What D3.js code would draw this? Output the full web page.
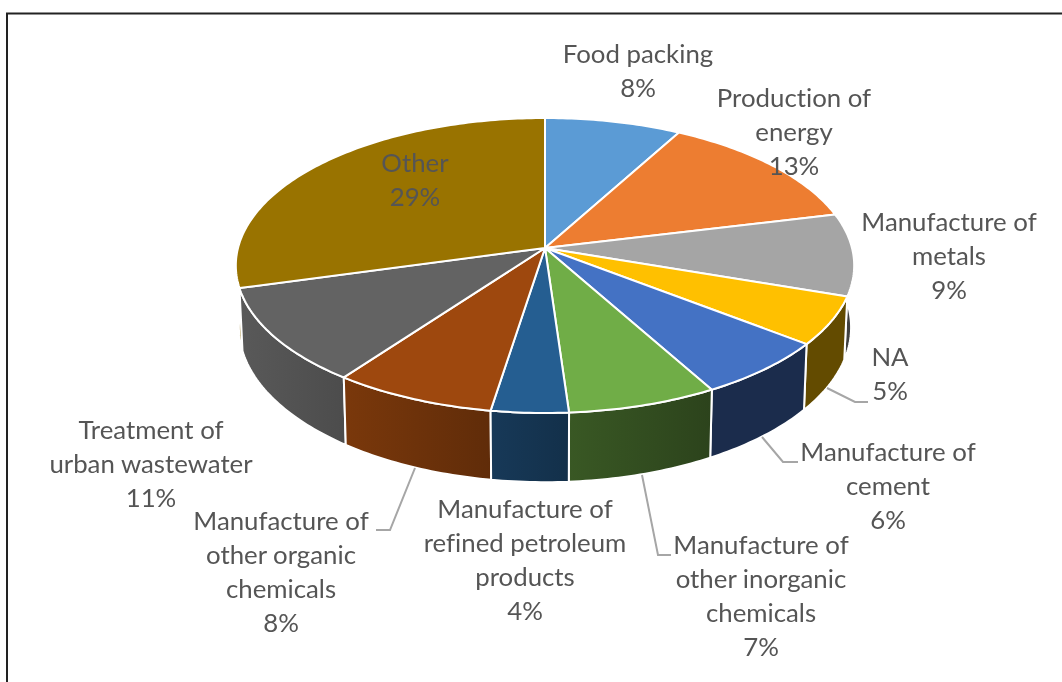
<!DOCTYPE html>
<html>
<head>
<meta charset="utf-8">
<script src="https://cdn.jsdelivr.net/npm/d3@7/dist/d3.min.js"></script>
<style>
  html, body { margin: 0; padding: 0; background: #fff; overflow: hidden; }
  svg { display: block; filter: blur(0.4px); }
  text { font-family: Lato, sans-serif; font-size: 25.8px; font-variant-ligatures: none; fill: #555; text-anchor: middle; dominant-baseline: central; }
</style>
</head>
<body>
<svg class="svg" width="1062" height="682"></svg>
<script>
// slice order runs clockwise from 12 o'clock
const categories = [
  ['Food packing'],
  ['Production of', 'energy'],
  ['Manufacture of', 'metals'],
  ['NA'],
  ['Manufacture of', 'cement'],
  ['Manufacture of', 'other inorganic', 'chemicals'],
  ['Manufacture of', 'refined petroleum', 'products'],
  ['Manufacture of', 'other organic', 'chemicals'],
  ['Treatment of', 'urban wastewater'],
  ['Other']
];
const values = [8.0, 13.2, 9.0, 5.3, 6.4, 7.0, 3.6, 7.6, 10.6, 29.3];
const colors = ['#5B9BD5', '#ED7D31', '#A5A5A5', '#FFC000', '#4472C4', '#70AD47', '#255E91', '#9E480E', '#636363', '#997300'];

// label layout, kept apart from the data: x centre, y centre of first line
const labelPos = [[638, 53], [794, 97], [949, 221], [890, 356], [888, 451], [761, 544], [525, 508], [281, 520], [151, 429], [415, 162]];
const leaders = [
  null, null, null,
  [[827, 388], [855, 402], [868, 402]],
  [[762, 437], [783, 462], [798, 462]],
  [[642, 475], [658, 555], [671, 555]],
  null,
  [[415, 468], [390, 530], [376, 530]],
  null, null
];

const cx = 545, cy = 248, rx = 307, ry = 145.4, persp = 0.1186, depth = 61, lineH = 34;

const svg = d3.select('.svg');
svg.append('rect').attr('width', 1062).attr('height', 682).attr('fill', '#fff');
svg.append('rect').attr('x', 7).attr('y', 13.5).attr('width', 1100).attr('height', 720)
  .attr('fill', 'none').attr('stroke', '#222').attr('stroke-width', 2);

const pie = d3.pie().sort(null).value(d => d);
const arcs = pie(values).map((d, i) => ({ ...d, i }));

// top face is a circle under a projective map, so slices stay straight and the rim stays an ellipse
function project(a) {
  const w = 1 + persp * Math.cos(a);
  return [cx + rx * Math.sin(a) / w, cy - ry * Math.cos(a) / w];
}
function projectBottom(a) {
  const w = 1 + persp * Math.cos(a);
  const p = project(a);
  return [cx + (p[0] - cx) * 0.99, p[1] + depth / w];
}
function sample(d) {
  const n = Math.max(4, Math.ceil((d.endAngle - d.startAngle) * 60));
  return d3.range(n + 1).map(k => d.startAngle + (d.endAngle - d.startAngle) * k / n);
}

const line = d3.line();
const deg = a => a * 180 / Math.PI;
const shade = d3.scaleLinear().domain([108, 151, 176, 189, 216, 254]).range([0.39, 0.39, 0.51, 0.61, 0.77, 0.9]).clamp(true);
const scaled = (hex, k) => {
  const c = d3.rgb(hex);
  return d3.rgb(c.r * k, c.g * k, c.b * k).formatHex();
};

const defs = svg.append('defs');
const grads = defs.selectAll('linearGradient').data(arcs).join('linearGradient')
  .attr('id', d => 'side-' + d.i);
grads.append('stop').attr('offset', '0%').attr('stop-color', d => scaled(colors[d.i], shade(deg(d.endAngle))));
grads.append('stop').attr('offset', '100%').attr('stop-color', d => scaled(colors[d.i], shade(deg(d.startAngle))));

// sides back to front, tops go over them afterwards
const midCos = d => Math.cos((d.startAngle + d.endAngle) / 2);
svg.append('g').selectAll('path').data(arcs.slice().sort((a, b) => midCos(b) - midCos(a))).join('path')
  .attr('d', d => {
    const as = sample(d);
    return line(as.map(project).concat(as.slice().reverse().map(projectBottom))) + 'Z';
  })
  .attr('fill', d => `url(#side-${d.i})`)
  .attr('stroke', '#fff').attr('stroke-width', 2).attr('stroke-linejoin', 'round');

svg.append('g').selectAll('path').data(arcs).join('path')
  .attr('d', d => line([[cx, cy]].concat(sample(d).map(project))) + 'Z')
  .attr('fill', d => colors[d.i])
  .attr('stroke', '#fff').attr('stroke-width', 2).attr('stroke-linejoin', 'round');

svg.append('g').selectAll('path').data(leaders.filter(d => d)).join('path')
  .attr('d', d => line(d))
  .attr('fill', 'none').attr('stroke', '#a6a6a6').attr('stroke-width', 2);

const label = svg.append('g').selectAll('text').data(arcs).join('text');
label.selectAll('tspan')
  .data(d => categories[d.i].concat(Math.round(values[d.i]) + '%').map((t, k) => ({ t, k, i: d.i })))
  .join('tspan')
  .attr('x', d => labelPos[d.i][0])
  .attr('y', d => labelPos[d.i][1] + d.k * lineH)
  .text(d => d.t);
</script>
</body>
</html>
